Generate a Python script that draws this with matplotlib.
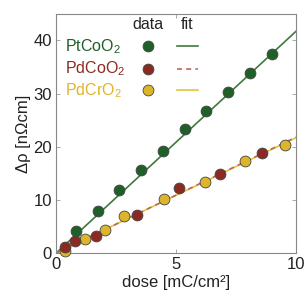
import matplotlib
matplotlib.use("Agg")
import matplotlib.pyplot as plt
import numpy as np

plt.rcParams['font.family'] = ['Liberation Sans', 'DejaVu Sans']
plt.rcParams['mathtext.fontset'] = 'custom'
plt.rcParams['mathtext.rm'] = 'Liberation Sans'
plt.rcParams['mathtext.it'] = 'Liberation Sans'

# PtCoO2
pt_dose = [0.82, 1.73, 2.64, 3.56, 4.45, 5.36, 6.26, 7.18, 8.08, 9.0]
pt_rho = [4.1, 7.9, 11.8, 15.6, 19.3, 23.3, 26.8, 30.3, 33.9, 37.5]
pt_slope = 4.17
# PdCoO2
pdco_dose = [0.36, 0.8, 1.66, 3.38, 5.12, 6.82, 8.58]
pdco_rho = [1.2, 2.3, 3.3, 7.1, 12.3, 14.8, 18.8]
pdco_slope = 2.18
# PdCrO2
pdcr_dose = [0.35, 1.21, 2.02, 2.85, 4.49, 6.22, 7.88, 9.54]
pdcr_rho = [0.4, 2.6, 4.3, 6.9, 10.2, 13.4, 17.3, 20.3]
pdcr_slope = 2.17

names = ['PtCoO$_2$', 'PdCoO$_2$', 'PdCrO$_2$']
mcolors = ['#1f5f28', '#8b2a22', '#dcb52a']
lcolors = ['#3d7a3a', '#b86a60', '#e6c23a']
lstyles = ['-', (0, (3, 2.5)), '-']

fig = plt.figure(figsize=(3.05, 2.96), dpi=100)
ax = fig.add_axes([0.184, 0.145, 0.786, 0.808])

xfit = np.array([0, 10])
series = [(pt_dose, pt_rho, pt_slope), (pdco_dose, pdco_rho, pdco_slope), (pdcr_dose, pdcr_rho, pdcr_slope)]
# fit lines
for i in [0, 2, 1]:
    d, r, s = series[i]
    ax.plot(xfit, s * xfit, color=lcolors[i], ls=lstyles[i], lw=1.2, zorder=2)
# data markers
for i in [2, 1, 0]:
    d, r, s = series[i]
    ax.plot(d, r, 'o', ms=7.8, mfc=mcolors[i], mec='#444444', mew=0.6, zorder=3, clip_on=False)

ax.set_xlim(0, 10)
ax.set_ylim(0, 45)
ax.set_xticks([0, 5, 10])
ax.set_yticks([0, 10, 20, 30, 40])
ax.tick_params(direction='in', top=True, right=True, labelsize=12, length=3, width=0.6, colors='#999999', labelcolor='#222222', pad=3)
for sp in ax.spines.values():
    sp.set_color('#888888')
    sp.set_linewidth(0.8)
ax.set_xlabel('dose [mC/cm²]', fontsize=12, color='#222222', labelpad=2)
ax.set_ylabel('Δρ [nΩcm]', fontsize=12, color='#222222', labelpad=2)

# manual legend
ax.text(0.385, 0.955, 'data', transform=ax.transAxes, ha='center', va='center', fontsize=11.5, color='#222222')
ax.text(0.545, 0.955, 'fit', transform=ax.transAxes, ha='center', va='center', fontsize=11.5, color='#222222')
ys = [0.865, 0.77, 0.68]
for i in range(3):
    ax.text(0.035, ys[i], names[i], transform=ax.transAxes, ha='left', va='center', fontsize=11.5, color=mcolors[i] if i != 2 else '#e0b52a')
    ax.plot([0.385], [ys[i]], 'o', ms=7.8, mfc=mcolors[i], mec='#444444', mew=0.6, transform=ax.transAxes)
    ax.plot([0.505, 0.59], [ys[i], ys[i]], color=lcolors[i], ls=lstyles[i], lw=1.2, transform=ax.transAxes)

fig.savefig('out.png', dpi=100)
